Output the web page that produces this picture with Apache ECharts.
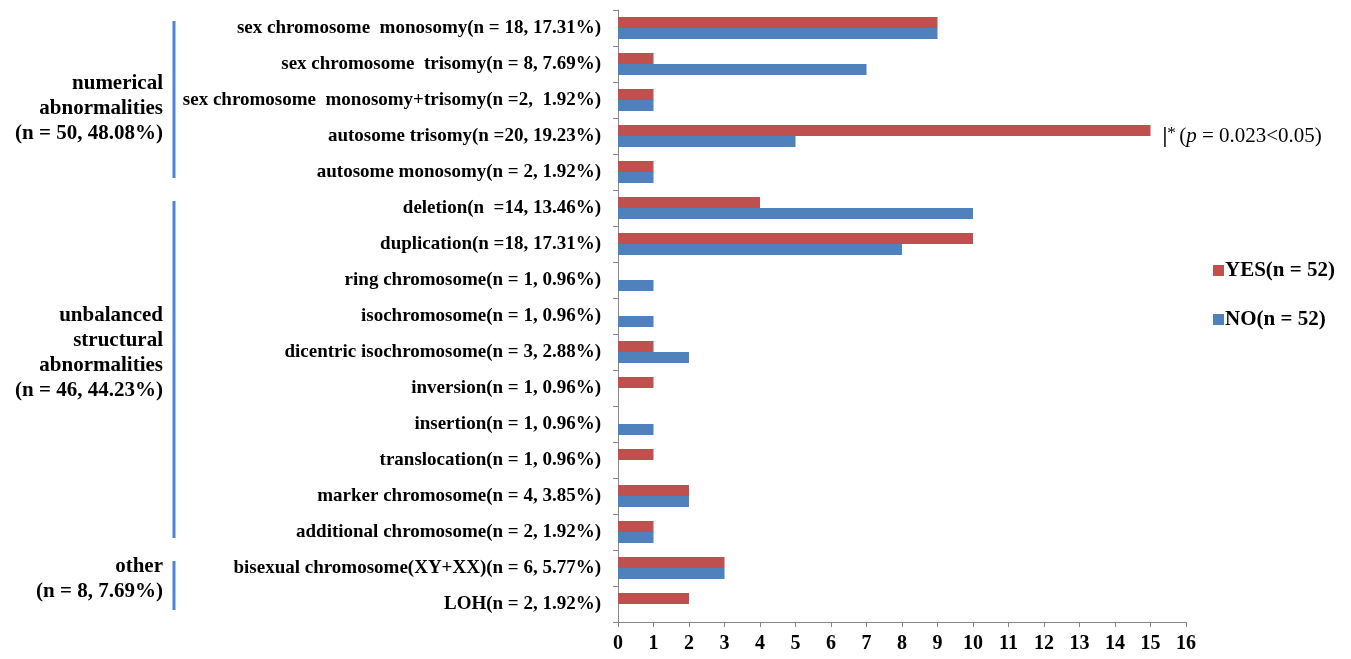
<!DOCTYPE html>
<html>
<head>
<meta charset="utf-8">
<script src="https://cdn.jsdelivr.net/npm/echarts@6/dist/echarts.min.js"></script>
<style>
  html, body { margin: 0; padding: 0; background: #fff; }
  #chart { width: 1351px; height: 659px; }
</style>
</head>
<body>
<div id="chart"></div>
<script>
// Abnormality types, listed top to bottom
const categories = [
  'sex chromosome  monosomy(n = 18, 17.31%)',
  'sex chromosome  trisomy(n = 8, 7.69%)',
  'sex chromosome  monosomy+trisomy(n =2,  1.92%)',
  'autosome trisomy(n =20, 19.23%)',
  'autosome monosomy(n = 2, 1.92%)',
  'deletion(n  =14, 13.46%)',
  'duplication(n =18, 17.31%)',
  'ring chromosome(n = 1, 0.96%)',
  'isochromosome(n = 1, 0.96%)',
  'dicentric isochromosome(n = 3, 2.88%)',
  'inversion(n = 1, 0.96%)',
  'insertion(n = 1, 0.96%)',
  'translocation(n = 1, 0.96%)',
  'marker chromosome(n = 4, 3.85%)',
  'additional chromosome(n = 2, 1.92%)',
  'bisexual chromosome(XY+XX)(n = 6, 5.77%)',
  'LOH(n = 2, 1.92%)'
];
const yesValues = [9, 1, 1, 15, 1, 4, 10, 0, 0, 1, 1, 0, 1, 2, 1, 3, 2];
const noValues  = [9, 7, 1, 5, 1, 10, 8, 1, 1, 2, 0, 1, 0, 2, 1, 3, 0];
const seriesNames = ['YES(n = 52)', 'NO(n = 52)'];
const xTicks = [0, 16, 1]; // min, max, interval

// Groups of categories (first index, last index) with their labels
const groups = [
  { name: 'numerical\nabnormalities\n(n = 50, 48.08%)', from: 0, to: 4, shift: 9 },
  { name: 'unbalanced\nstructural\nabnormalities\n(n = 46, 44.23%)', from: 5, to: 14, shift: -16 },
  { name: 'other\n(n = 8, 7.69%)', from: 15, to: 16, shift: -6 }
];
const significantIndex = 3;

const FONT = "'Liberation Serif', 'Times New Roman', serif";
const RED = '#C0504D';
const BLUE = '#4F81BD';
const BRACKET = '#4A86D8';

const chart = echarts.init(document.getElementById('chart'), null, { renderer: 'canvas' });

const option = {
  animation: false,
  backgroundColor: '#fff',
  grid: { left: 618, right: 165, top: 10, bottom: 37 },
  legend: {
    orient: 'vertical',
    left: 1208,
    top: 255,
    itemGap: 28,
    itemWidth: 11,
    itemHeight: 11,
    icon: 'rect',
    data: seriesNames,
    textStyle: { fontFamily: FONT, fontWeight: 'bold', fontSize: 21, color: '#000', padding: [0, 0, 0, -4] }
  },
  xAxis: {
    type: 'value',
    min: xTicks[0],
    max: xTicks[1],
    interval: xTicks[2],
    splitLine: { show: false },
    axisLine: { show: true, lineStyle: { color: '#868686', width: 1 } },
    axisTick: { show: true, length: 5, lineStyle: { color: '#868686' } },
    axisLabel: { fontFamily: FONT, fontWeight: 'bold', fontSize: 20, color: '#000', margin: 12 }
  },
  yAxis: {
    type: 'category',
    inverse: true,
    data: categories,
    axisLine: { show: true, lineStyle: { color: '#868686', width: 1 } },
    axisTick: { show: true, length: 5, alignWithLabel: false, lineStyle: { color: '#868686' } },
    axisLabel: { fontFamily: FONT, fontWeight: 'bold', fontSize: 19, color: '#000', margin: 17 }
  },
  series: [
    {
      name: seriesNames[0],
      type: 'bar',
      data: yesValues,
      barWidth: 11,
      barGap: '0%',
      itemStyle: { color: RED },
      markPoint: {
        symbol: 'circle',
        symbolSize: 0,
        data: [{
          coord: [yesValues[significantIndex], categories[significantIndex]],
          label: {
            show: true,
            position: 'right',
            distance: 12,
            offset: [0, 6],
            formatter: '{bar||}{b|*} {n|(}{i|p}{n| = 0.023<0.05)}',
            rich: {
              bar: { fontFamily: FONT, fontWeight: 'bold', fontSize: 22, color: '#000' },
              b: { fontFamily: FONT, fontSize: 17, color: '#000', verticalAlign: 'top' },
              n: { fontFamily: FONT, fontSize: 21, color: '#000' },
              i: { fontFamily: FONT, fontStyle: 'italic', fontSize: 21, color: '#000' }
            }
          }
        }]
      }
    },
    {
      name: seriesNames[1],
      type: 'bar',
      data: noValues,
      barWidth: 11,
      barGap: '0%',
      itemStyle: { color: BLUE }
    }
  ]
};

chart.setOption(option);

// Group brackets and labels on the left, placed from category positions
const lineX = 174;
const graphics = [];
groups.forEach(function (g) {
  const y1 = chart.convertToPixel({ yAxisIndex: 0 }, g.from) - 7;
  const y2 = chart.convertToPixel({ yAxisIndex: 0 }, g.to) + 6;
  graphics.push({
    type: 'line',
    shape: { x1: lineX, y1: y1, x2: lineX, y2: y2 },
    style: { stroke: BRACKET, lineWidth: 3 }
  });
  graphics.push({
    type: 'text',
    x: lineX - 11,
    y: (y1 + y2) / 2 + g.shift,
    style: {
      text: g.name,
      fontFamily: FONT,
      fontWeight: 'bold',
      fontSize: 21,
      lineHeight: 25,
      fill: '#000',
      align: 'right',
      verticalAlign: 'middle'
    }
  });
});
chart.setOption({ graphic: graphics });
</script>
</body>
</html>
